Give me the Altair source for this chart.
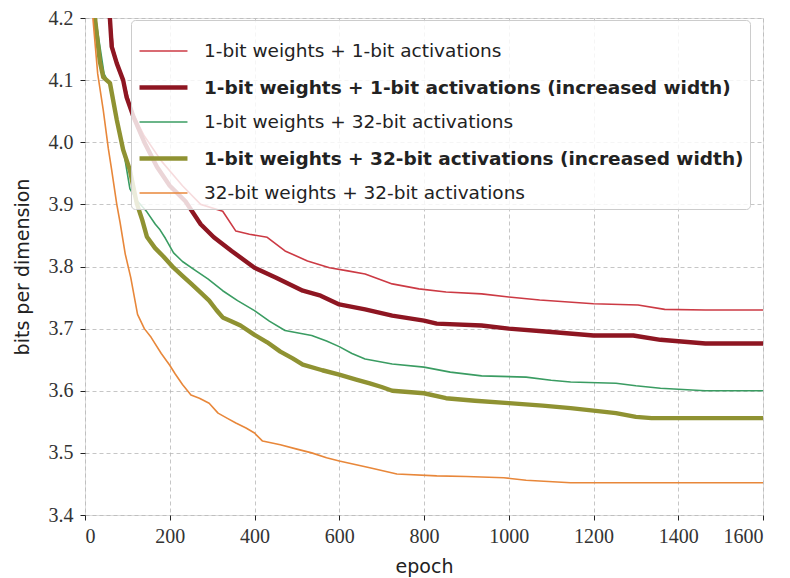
import altair as alt
import pandas as pd

# series names (legend order)
names = [
    "1-bit weights + 1-bit activations",
    "1-bit weights + 1-bit activations (increased width)",
    "1-bit weights + 32-bit activations",
    "1-bit weights + 32-bit activations (increased width)",
    "32-bit weights + 32-bit activations",
]
colors = ["#cc3a44", "#8e1622", "#3a9c62", "#8f9232", "#e8873a"]
widths = [1.6, 4.4, 1.6, 4.4, 1.6]

# 1-bit w + 1-bit a
e_11 = [45, 60, 67, 80, 95, 110, 140, 180, 230, 273, 325, 356, 388, 430, 472, 525, 577, 620, 661,
        725, 788, 852, 936, 1000, 1073, 1200, 1305, 1368, 1464, 1600]
v_11 = [4.40, 4.197, 4.15, 4.12, 4.09, 4.05, 4.01, 3.97, 3.93, 3.900, 3.889, 3.857, 3.852, 3.847,
        3.825, 3.809, 3.798, 3.793, 3.788, 3.772, 3.764, 3.759, 3.756, 3.751, 3.746, 3.740, 3.738,
        3.731, 3.730, 3.730]

# 1-bit w + 1-bit a (increased width)
e_11w = [40, 59, 63, 75, 90, 98, 115, 140, 170, 200, 237, 273, 304, 346, 400, 451, 514, 556, 600,
         661, 725, 800, 830, 936, 1000, 1094, 1200, 1294, 1358, 1464, 1600]
v_11w = [4.40, 4.197, 4.154, 4.127, 4.100, 4.073, 4.04, 4.00, 3.96, 3.93, 3.905, 3.868, 3.847,
         3.825, 3.798, 3.782, 3.761, 3.753, 3.739, 3.731, 3.721, 3.713, 3.708, 3.705, 3.700, 3.695,
         3.689, 3.689, 3.682, 3.676, 3.676]

# 1-bit w + 32-bit a
e_132 = [15, 25, 45, 60, 75, 90, 106, 124, 146, 166, 177, 190, 209, 230, 262, 290, 325, 360, 400,
         435, 472, 535, 570, 600, 630, 661, 725, 800, 862, 936, 1041, 1100, 1146, 1253, 1300, 1358,
         1464, 1600]
v_132 = [4.36, 4.20, 4.11, 4.09, 4.04, 3.99, 3.925, 3.905, 3.888, 3.868, 3.859, 3.845, 3.822,
         3.808, 3.793, 3.780, 3.761, 3.745, 3.729, 3.712, 3.697, 3.689, 3.680, 3.671, 3.660, 3.651,
         3.643, 3.638, 3.630, 3.624, 3.622, 3.617, 3.614, 3.612, 3.608, 3.604, 3.600, 3.600]

# 1-bit w + 32-bit a (increased width)
e_132w = [15, 24, 35, 43, 59, 75, 90, 106, 122, 135, 146, 165, 185, 209, 230, 251, 270, 293, 310,
          325, 345, 367, 400, 430, 461, 490, 514, 560, 600, 640, 672, 700, 725, 800, 852, 920, 1000,
          1080, 1146, 1200, 1253, 1300, 1337, 1600]
v_132w = [4.35, 4.197, 4.13, 4.105, 4.095, 4.036, 3.988, 3.955, 3.902, 3.875, 3.848, 3.83, 3.816,
          3.798, 3.785, 3.772, 3.760, 3.745, 3.730, 3.718, 3.712, 3.705, 3.690, 3.678, 3.663, 3.652,
          3.642, 3.633, 3.626, 3.618, 3.612, 3.606, 3.600, 3.596, 3.588, 3.584, 3.580, 3.576, 3.572,
          3.568, 3.564, 3.558, 3.556, 3.556]

# 32-bit w + 32-bit a
e_3232 = [10, 19, 30, 43, 55, 63, 75, 83, 95, 108, 124, 140, 156, 180, 200, 213, 230, 250, 270, 293,
          314, 335, 356, 380, 400, 419, 461, 500, 535, 570, 600, 640, 672, 736, 830, 900, 988, 1041,
          1146, 1600]
v_3232 = [4.40, 4.197, 4.11, 4.052, 3.99, 3.955, 3.90, 3.870, 3.82, 3.782, 3.723, 3.70, 3.686, 3.66,
          3.641, 3.627, 3.61, 3.593, 3.588, 3.580, 3.564, 3.556, 3.548, 3.540, 3.532, 3.519, 3.513,
          3.506, 3.500, 3.492, 3.487, 3.481, 3.476, 3.466, 3.463, 3.462, 3.460, 3.456, 3.452, 3.452]

x_ticks = [0, 200, 400, 600, 800, 1000, 1200, 1400, 1600]
y_ticks = [3.4, 3.5, 3.6, 3.7, 3.8, 3.9, 4.0, 4.1, 4.2]

series_data = [(e_11, v_11), (e_11w, v_11w), (e_132, v_132), (e_132w, v_132w), (e_3232, v_3232)]

rows = []
for i, (name, (ee, vv)) in enumerate(zip(names, series_data)):
    for k, (e, v) in enumerate(zip(ee, vv)):
        rows.append({"epoch": e, "bpd": v, "series": name, "order": i, "k": k})
df = pd.DataFrame(rows)

sans = "DejaVu Sans"
serif = "Liberation Serif"


def legend():
    return alt.Legend(
        title=None,
        orient="none",
        legendX=46,
        legendY=2,
        symbolType="stroke",
        symbolSize=2300,
        labelFont=sans,
        labelFontSize=18.5,
        labelColor="#222222",
        labelFontWeight={"expr": "indexof(datum.label, 'increased') >= 0 ? 'bold' : 'normal'"},
        labelLimit=800,
        labelOffset=14,
        rowPadding=-6,
        fillColor="rgba(255,255,255,0.82)",
        strokeColor="#cccccc",
        cornerRadius=4,
        padding=6,
    )


def axis(title, values, fmt, title_pad, label_pad):
    return alt.Axis(
        title=title,
        values=values,
        format=fmt,
        labelFont=serif,
        labelFontSize=20,
        labelColor="#333333",
        titleFont=sans,
        titleFontSize=19,
        titleFontWeight="normal",
        titleColor="#222222",
        titlePadding=title_pad,
        labelPadding=label_pad,
        tickSize=5,
        tickColor="#222222",
        domain=False,
        grid=True,
        gridColor="#b8b8b8",
        gridDash=[4, 3],
        gridWidth=0.8,
    )


lines = alt.Chart(df).mark_line(clip=True, strokeJoin="round").encode(
    x=alt.X(
        "epoch:Q",
        scale=alt.Scale(domain=[0, 1600], nice=False),
        axis=axis("epoch", x_ticks, "d", 11, 6),
    ),
    y=alt.Y(
        "bpd:Q",
        scale=alt.Scale(domain=[3.4, 4.2], nice=False, zero=False),
        axis=axis("bits per dimension", y_ticks, ".1f", 16, 7),
    ),
    color=alt.Color(
        "series:N",
        scale=alt.Scale(domain=names, range=colors),
        sort=names,
        legend=legend(),
    ),
    strokeWidth=alt.StrokeWidth(
        "series:O",
        scale=alt.Scale(type="ordinal", domain=names, range=widths),
        sort=names,
        legend=legend(),
    ),
    detail="series:N",
    order="k:Q",
)

chart = lines.properties(
    width=678,
    height=497,
    autosize=alt.AutoSizeParams(type="none"),
    padding={"left": 85, "top": 18, "right": 27, "bottom": 63},
).configure_view(
    stroke="#222222", strokeWidth=1.2
).configure(background="white")

chart.save("out.html", embed_options={"renderer": "svg", "actions": False})
